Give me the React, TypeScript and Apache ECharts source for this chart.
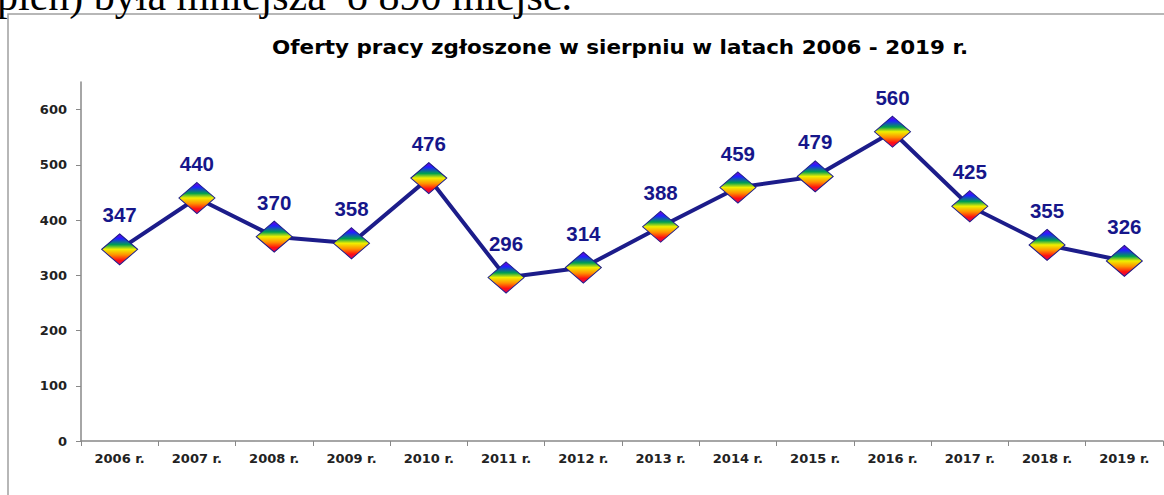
import React, { useEffect, useRef } from "react";
import * as echarts from "echarts";

const categories = ["2006 r.", "2007 r.", "2008 r.", "2009 r.", "2010 r.", "2011 r.", "2012 r.", "2013 r.", "2014 r.", "2015 r.", "2016 r.", "2017 r.", "2018 r.", "2019 r."];
const values = [347, 440, 370, 358, 476, 296, 314, 388, 459, 479, 560, 425, 355, 326];
const titleText = "Oferty pracy zgłoszone w sierpniu w latach 2006 - 2019 r.";
const topText = "pień) była mniejsza  o 890 miejsc.";

export default function App() {
  const ref = useRef<HTMLDivElement>(null);
  useEffect(() => {
    if (!ref.current) return;
    const chart = echarts.init(ref.current, null, { renderer: "svg" });
    const rainbow = new echarts.graphic.LinearGradient(0, 0, 0, 1, [
      { offset: 0, color: "#7a00d0" },
      { offset: 0.15, color: "#2020ff" },
      { offset: 0.35, color: "#00a050" },
      { offset: 0.5, color: "#f0f000" },
      { offset: 0.68, color: "#ff9000" },
      { offset: 0.85, color: "#ff1010" },
      { offset: 1, color: "#d0006a" },
    ]);
    const axisFont = "'DejaVu Sans', Verdana, sans-serif";
    chart.setOption({
      animation: false,
      backgroundColor: "#fff",
      grid: { left: 81, right: 1, top: 82, bottom: 54, containLabel: false },
      graphic: [
        {
          type: "text",
          x: -3,
          y: 17,
          style: {
            text: topText,
            font: "42px 'Liberation Serif', 'Times New Roman', serif",
            fill: "#000",
            verticalAlign: "bottom",
          },
        },
        {
          type: "rect",
          shape: { x: 8, y: 14, width: 1170, height: 500 },
          style: { fill: "none", stroke: "#a0a0a0", lineWidth: 1.5 },
          z: -1,
        },
        {
          type: "text",
          x: 272,
          y: 38,
          scaleX: 1.13,
          style: {
            text: titleText,
            font: "bold 19px 'DejaVu Sans', Verdana, sans-serif",
            fill: "#000",
            verticalAlign: "top",
          },
        },
      ],
      xAxis: {
        type: "category",
        data: categories,
        boundaryGap: true,
        axisLine: { lineStyle: { color: "#888", width: 1.5 } },
        axisTick: { show: true, inside: false, length: 5, lineStyle: { color: "#888" } },
        axisLabel: { fontFamily: axisFont, fontWeight: "bold", fontSize: 13, color: "#222", margin: 11 },
        splitLine: { show: false },
      },
      yAxis: {
        type: "value",
        min: 0,
        max: 650,
        interval: 100,
        axisLine: { show: true, lineStyle: { color: "#888", width: 1.5 } },
        axisTick: { show: true, length: 5, lineStyle: { color: "#888" } },
        axisLabel: {
          fontFamily: axisFont,
          fontWeight: "bold",
          fontSize: 13,
          color: "#222",
          margin: 14,
          showMaxLabel: false,
          formatter: (v: number) => (v > 600 ? "" : String(v)),
        },
        splitLine: { show: false },
      },
      series: [
        {
          type: "line",
          data: values,
          symbol: "diamond",
          symbolSize: [36, 31],
          lineStyle: { color: "#1c1c8a", width: 4 },
          itemStyle: { color: rainbow, borderColor: "#1c1c8a", borderWidth: 1 },
          label: {
            show: true,
            position: "top",
            distance: 8,
            fontFamily: "'Liberation Sans', Arial, sans-serif",
            fontWeight: "bold",
            fontSize: 20.5,
            color: "#16168a",
          },
        },
      ],
    });
    return () => chart.dispose();
  }, []);
  return <div ref={ref} style={{ position: "absolute", left: 0, top: 0, width: 1164, height: 495 }} />;
}
